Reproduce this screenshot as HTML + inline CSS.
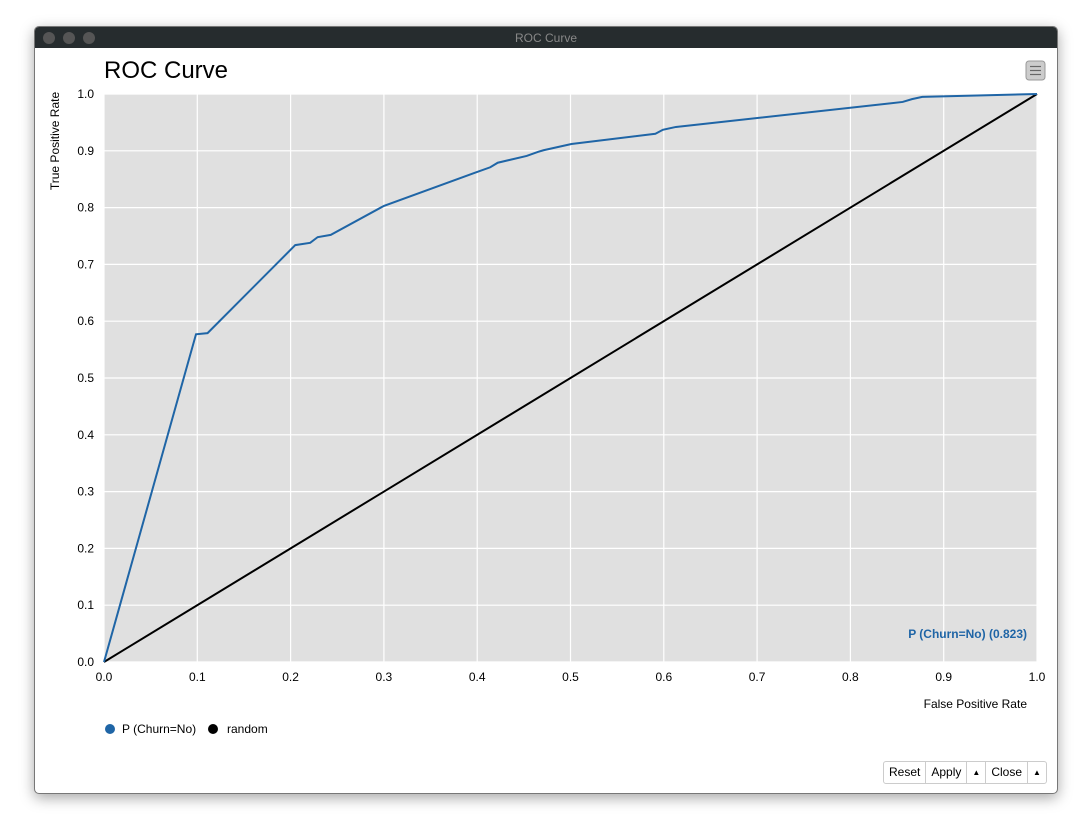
<!DOCTYPE html>
<html><head><meta charset="utf-8"><style>
body{margin:0;width:1092px;height:836px;background:#fff;font-family:"Liberation Sans",sans-serif;position:relative;overflow:hidden}
#win{position:absolute;left:34px;top:26px;width:1024px;height:768px;background:#fff;border-radius:5px;box-shadow:0 4px 14px rgba(0,0,0,.35);overflow:hidden;border:1px solid #777;box-sizing:border-box}
#bar{height:21px;background:#262c2e;color:#888;font-size:12px;text-align:center;line-height:22px;position:relative}
.dot{position:absolute;top:5px;width:12px;height:12px;border-radius:50%;background:#555}
.btns{position:absolute;left:848px;top:734px;display:flex;border:1px solid #ccc;border-radius:3px;font-size:12px}
.btns div{padding:3px 5px;border-right:1px solid #ccc;height:15px;line-height:15px}
.btns div:last-child{border-right:none}
</style></head><body>
<div id="win">
<div id="bar">ROC Curve
<span class="dot" style="left:8px"></span>
<span class="dot" style="left:28px"></span>
<span class="dot" style="left:48px"></span></div>
<div class="btns">
<div>Reset</div>
<div>Apply</div>
<div style="font-size:8px">▲</div>
<div>Close</div>
<div style="font-size:8px">▲</div>
</div>
</div>
<svg id="chart" width="1092" height="836" style="position:absolute;left:0;top:0"></svg>
<script>
const fprValues=[0,0.0986,0.111,0.205,0.221,0.229,0.243,0.300,0.397,0.414,0.422,0.435,0.453,0.465,0.471,0.501,0.591,0.599,0.613,0.856,0.866,0.877,1];
const tprValues=[0,0.577,0.579,0.734,0.738,0.748,0.752,0.803,0.861,0.871,0.879,0.884,0.891,0.898,0.901,0.912,0.930,0.937,0.942,0.986,0.991,0.995,1];
const randomX=[0,1];
const randomY=[0,1];
const xTicks=[0,0.1,0.2,0.3,0.4,0.5,0.6,0.7,0.8,0.9,1.0];
const yTicks=[0,0.1,0.2,0.3,0.4,0.5,0.6,0.7,0.8,0.9,1.0];
const aucLabel="P (Churn=No) (0.823)";
const X0=104,X1=1037,Y0=662,Y1=94;
const sx=v=>X0+(X1-X0)*v, sy=v=>Y0-(Y0-Y1)*v;
const svg=document.getElementById('chart');const NS='http://www.w3.org/2000/svg';
function mk(t,a,txt){const e=document.createElementNS(NS,t);for(const k in a)e.setAttribute(k,a[k]);if(txt!==undefined)e.textContent=txt;svg.appendChild(e);return e;}
let e=mk('rect',{x:X0,y:Y1,width:X1-X0,height:Y0-Y1,fill:'#e0e0e0'});


xTicks.forEach(t=>{let g=mk('line',{x1:sx(t),x2:sx(t),y1:Y1,y2:Y0,stroke:'#fff','stroke-width':1.2});


let l=mk('text',{x:sx(t),y:Y0+19,'font-size':12,'text-anchor':'middle',fill:'#000'},t.toFixed(1));

});
yTicks.forEach(t=>{let g=mk('line',{x1:X0,x2:X1,y1:sy(t),y2:sy(t),stroke:'#fff','stroke-width':1.2});


let l=mk('text',{x:X0-10,y:sy(t)+4,'font-size':12,'text-anchor':'end',fill:'#000'},t.toFixed(1));

});
let rl=mk('polyline',{points:randomX.map((v,i)=>sx(v)+','+sy(randomY[i])).join(' '),fill:'none',stroke:'#000','stroke-width':2});


let rc=mk('polyline',{points:fprValues.map((v,i)=>sx(v)+','+sy(tprValues[i])).join(' '),fill:'none',stroke:'#1f65a6','stroke-width':2});


let a=mk('text',{x:1027,y:638,'font-size':12,'font-weight':'bold','text-anchor':'end',fill:'#1f65a6'},aucLabel);


let ti=mk('text',{x:104,y:78,'font-size':24,fill:'#000'},'ROC Curve');


let xt=mk('text',{x:1027,y:708,'font-size':12,'text-anchor':'end',fill:'#000'},'False Positive Rate');


let yt=mk('text',{x:0,y:0,'font-size':12,'text-anchor':'middle',fill:'#000',transform:'translate(59,141) rotate(-90)'},'True Positive Rate');


let m=mk('rect',{x:1026,y:61,width:19,height:19,rx:3,fill:'#ccc',stroke:'#999'});


[66,70,74].forEach(y=>{mk('line',{x1:1030,x2:1041,y1:y+0.5,y2:y+0.5,stroke:'#666','stroke-width':1.2});});
let c1=mk('circle',{cx:110,cy:729,r:5,fill:'#1f65a6'});


mk('text',{x:122,y:733,'font-size':12,fill:'#000'},'P (Churn=No)');
let c2=mk('circle',{cx:213,cy:729,r:5,fill:'#000'});


mk('text',{x:227,y:733,'font-size':12,fill:'#000'},'random');
</script>
</body></html>
